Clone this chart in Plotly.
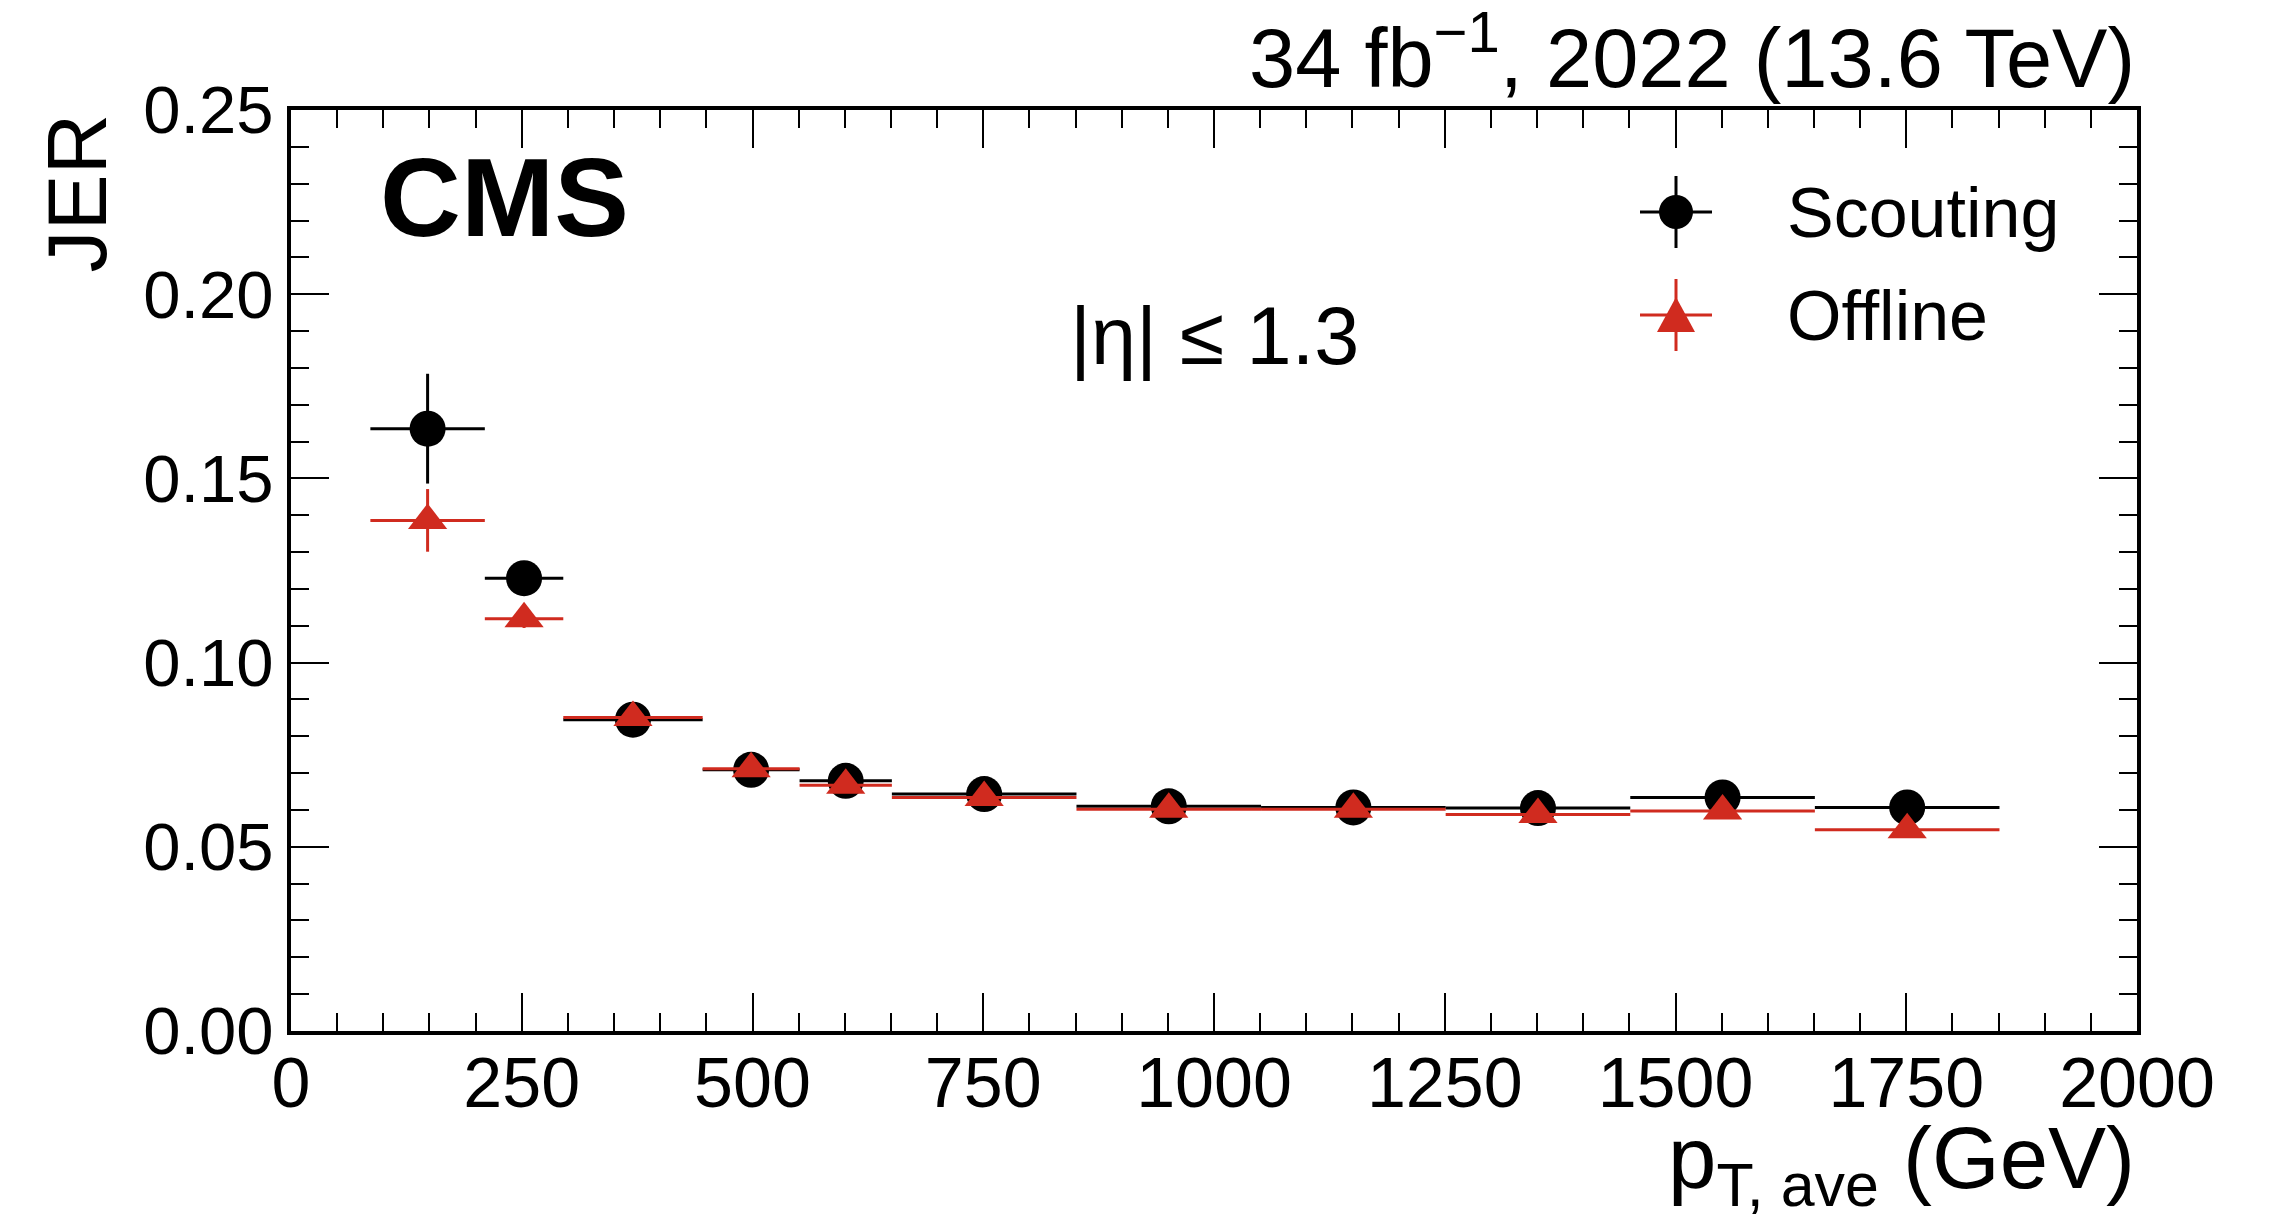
import plotly.graph_objects as go

# ---------------- data ----------------
bin_edges = [86, 210, 295, 446, 551, 651, 851, 1051, 1251, 1451, 1651, 1851]
scouting_jer = [0.1635, 0.1229, 0.0845, 0.0709, 0.0679, 0.0643, 0.0610, 0.0607, 0.0605, 0.0634, 0.0607]
scouting_err = [0.0149, 0.0030, 0.0020, 0.0015, 0.0012, 0.0010, 0.0010, 0.0010, 0.0012, 0.0015, 0.0020]
offline_jer = [0.1386, 0.1119, 0.0851, 0.0712, 0.0667, 0.0634, 0.0602, 0.0602, 0.0588, 0.0597, 0.0546]
offline_err = [0.0085, 0.0025, 0.0018, 0.0012, 0.0010, 0.0008, 0.0008, 0.0008, 0.0010, 0.0012, 0.0015]
x_tick_vals = [0, 250, 500, 750, 1000, 1250, 1500, 1750, 2000]
y_tick_vals = [0.00, 0.05, 0.10, 0.15, 0.20, 0.25]

centers = [(a + b) / 2 for a, b in zip(bin_edges[:-1], bin_edges[1:])]
half_w = [(b - a) / 2 for a, b in zip(bin_edges[:-1], bin_edges[1:])]

# ---------------- layout constants ----------------
W, H = 2280, 1217
L, R, T, B = 291, 2137, 110, 1031
FONT = "Liberation Sans, Arial, Helvetica, sans-serif"
RED = "#d02b1f"
BLACK = "#000000"


def px(x):
    return (x - L) / (R - L)


def py(y):
    return (B - y) / (B - T)


fig = go.Figure()

fig.add_trace(go.Scatter(
    x=centers, y=scouting_jer, mode="markers", name="Scouting",
    marker=dict(symbol="circle", size=36, color=BLACK, line=dict(width=0)),
    error_x=dict(type="data", array=half_w, color=BLACK, thickness=3, width=0),
    error_y=dict(type="data", array=scouting_err, color=BLACK, thickness=3, width=0),
    showlegend=False, cliponaxis=False,
))
fig.add_trace(go.Scatter(
    x=centers, y=offline_jer, mode="markers", name="Offline",
    marker=dict(symbol="triangle-up", size=34, color=RED, line=dict(width=0)),
    error_x=dict(type="data", array=half_w, color=RED, thickness=3, width=0),
    error_y=dict(type="data", array=offline_err, color=RED, thickness=3, width=0),
    showlegend=False, cliponaxis=False,
))

axis_common = dict(
    showline=True, linewidth=4, linecolor=BLACK, mirror="allticks",
    ticks="inside", ticklen=38, tickwidth=2, tickcolor=BLACK,
    showgrid=False, zeroline=False,
)

fig.update_xaxes(
    range=[0, 2000], tickmode="array", tickvals=x_tick_vals,
    ticktext=[str(v) for v in x_tick_vals],
    tickfont=dict(family=FONT, size=70, color=BLACK),
    ticklabelstandoff=-12,
    minor=dict(dtick=50, tick0=0, ticks="inside", ticklen=18, tickwidth=2, tickcolor=BLACK, showgrid=False),
    **axis_common,
)
fig.update_yaxes(
    range=[0, 0.25], tickmode="array", tickvals=y_tick_vals,
    ticktext=[f"{v:.2f}" for v in y_tick_vals],
    tickfont=dict(family=FONT, size=67, color=BLACK),
    minor=dict(dtick=0.01, tick0=0, ticks="inside", ticklen=18, tickwidth=2, tickcolor=BLACK, showgrid=False),
    **axis_common,
)

annotations = [
    dict(text="<b>CMS</b>", x=px(378), y=py(197), xanchor="left", yanchor="middle",
         font=dict(family=FONT, size=112, color=BLACK)),
    dict(text="|η| ≤ 1.3", x=px(1068), y=py(336), xanchor="left", yanchor="middle",
         font=dict(family=FONT, size=81, color=BLACK)),
    dict(text="34 fb<sup>−1</sup>, 2022 (13.6 TeV)", x=px(2137), y=py(52), xanchor="right", yanchor="middle",
         font=dict(family=FONT, size=83, color=BLACK)),
    dict(text="p<sub>T, ave</sub> (GeV)", x=px(2137), y=py(1164), xanchor="right", yanchor="middle",
         font=dict(family=FONT, size=87, color=BLACK)),
    dict(text="JER", x=px(125), y=py(112), xanchor="right", yanchor="top", textangle=-90,
         font=dict(family=FONT, size=84, color=BLACK)),
    dict(text="Scouting", x=px(1785), y=py(213), xanchor="left", yanchor="middle",
         font=dict(family=FONT, size=70, color=BLACK)),
    dict(text="Offline", x=px(1785), y=py(316), xanchor="left", yanchor="middle",
         font=dict(family=FONT, size=70, color=BLACK)),
]
for a in annotations:
    a.update(xref="paper", yref="paper", showarrow=False)

# legend symbols (decorations, in paper/pixel coordinates)
shapes = []
for (ly, color, sym) in [(212, BLACK, "circle"), (315, RED, "triangle")]:
    ax, ay = px(1676), py(ly)
    shapes.append(dict(type="line", xref="paper", yref="paper", xsizemode="pixel", xanchor=ax,
                       x0=-36, x1=36, y0=ay, y1=ay, line=dict(color=color, width=3), layer="above"))
    shapes.append(dict(type="line", xref="paper", yref="paper", ysizemode="pixel", yanchor=ay,
                       x0=ax, x1=ax, y0=-36, y1=36, line=dict(color=color, width=3), layer="above"))
    if sym == "circle":
        shapes.append(dict(type="circle", xref="paper", yref="paper", xsizemode="pixel", ysizemode="pixel",
                           xanchor=ax, yanchor=ay, x0=-17, x1=17, y0=-17, y1=17,
                           fillcolor=color, line=dict(width=0), layer="above"))
    else:
        shapes.append(dict(type="path", xref="paper", yref="paper", xsizemode="pixel", ysizemode="pixel",
                           xanchor=ax, yanchor=ay, path="M -19 -17 L 19 -17 L 0 18 Z",
                           fillcolor=color, line=dict(width=0), layer="above"))

fig.update_layout(
    width=W, height=H, autosize=False,
    margin=dict(l=L, r=W - R, t=T, b=H - B, pad=0),
    paper_bgcolor="white", plot_bgcolor="white",
    font=dict(family=FONT, color=BLACK),
    annotations=annotations, shapes=shapes,
    showlegend=False,
)

fig.write_html("out.html")
